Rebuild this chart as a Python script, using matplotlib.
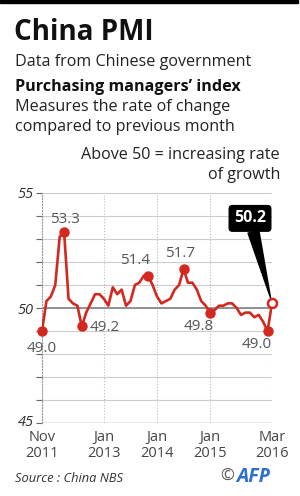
import numpy as np
import pandas as pd
import matplotlib
matplotlib.use('Agg')
import matplotlib.pyplot as plt
from matplotlib.transforms import ScaledTranslation

# ==========================================================
# DATA: official China PMI, Nov 2011 - Mar 2016
# ==========================================================
months = pd.date_range('2011-11-01', '2016-03-01', freq='MS')
pmi = [49.0, 50.3,
       50.5, 51.0, 53.1, 53.3, 50.4, 50.2, 50.1, 49.2, 49.8, 50.2, 50.6, 50.6,
       50.4, 50.1, 50.9, 50.6, 50.8, 50.1, 50.3, 51.0, 51.1, 51.4, 51.4, 51.0,
       50.5, 50.2, 50.3, 50.4, 50.8, 51.0, 51.7, 51.1, 51.1, 50.8, 50.3, 50.1,
       49.8, 49.9, 50.1, 50.1, 50.2, 50.2, 50.0, 49.7, 49.8, 49.8, 49.6, 49.7,
       49.4, 49.0, 50.2]

tick_months = ['2011-11', '2013-01', '2014-01', '2015-01', '2016-03']
tick_labels = ['Nov\n2011', 'Jan\n2013', 'Jan\n2014', 'Jan\n2015', 'Mar\n2016']

# highlighted points
marked_months = ['2011-11', '2012-04', '2012-08', '2013-11', '2014-07', '2015-01', '2016-02']
latest_month = '2016-03'

# ==========================================================
# STYLE
# ==========================================================
RED = '#d3281f'
GREY_TXT = '#555555'
plt.rcParams['font.family'] = ['Open Sans', 'DejaVu Sans']

W, H = 300, 496
fig = plt.figure(figsize=(W / 100, H / 100), dpi=100)

def fy(py):
    return 1 - py / H

# top black bar
fig.patches.append(plt.Rectangle((0, fy(3)), 298 / W, 3 / H, transform=fig.transFigure,
                                 color='black', zorder=5))

fs = 11.6
fig.text(14 / W, fy(32), 'China PMI', fontsize=20, fontweight='bold', va='center', color='#111111')
fig.text(15 / W, fy(62), 'Data from Chinese government', fontsize=fs, va='center', color='#222222')
fig.text(15 / W, fy(87), 'Purchasing managers\u2019 index', fontsize=fs, fontweight='bold',
         va='center', color='#111111')
fig.text(15 / W, fy(107), 'Measures the rate of change', fontsize=fs, va='center', color='#222222')
fig.text(15 / W, fy(127), 'compared to previous month', fontsize=fs, va='center', color='#222222')
fig.text(280 / W, fy(155), 'Above 50 = increasing rate', fontsize=fs, va='center', ha='right',
         color='#222222')
fig.text(280 / W, fy(175), 'of growth', fontsize=fs, va='center', ha='right', color='#222222')

fig.text(15 / W, fy(478), 'Source : China NBS', fontsize=9.3, style='italic', va='center',
         color='#333333')
fig.text(220 / W, fy(477), '\u00a9', fontsize=12, va='center', color='#555555')
fig.text(236 / W, fy(477), 'AFP', fontsize=14, fontweight='bold', style='italic', va='center',
         color='#2f6fd0')

# ==========================================================
# CHART
# ==========================================================
ax = fig.add_axes([42 / W, fy(423), 230 / W, 230 / H])
x = np.arange(len(months))
pos = {m.strftime('%Y-%m'): i for i, m in enumerate(months)}

ax.set_xlim(0, len(months) - 1)
ax.set_ylim(45, 55)

for s in ['top', 'right', 'bottom']:
    ax.spines[s].set_visible(False)
ax.spines['left'].set_linestyle(':')
ax.spines['left'].set_color('#999999')
ax.spines['left'].set_linewidth(0.8)

ax.set_yticks([45, 50, 55])
ax.set_yticks(np.arange(45, 56, 1), minor=True)
ax.set_yticklabels(['45', '50', '55'], fontsize=10.5, style='italic', color='#333333')
ax.tick_params(axis='y', which='both', length=4, width=0.8, color='#666666', pad=2)
ax.grid(axis='y', which='both', color='#cccccc', linewidth=0.8)
# lift the "45" a little so it clears the first date label
lab45 = ax.get_yticklabels()[0]
lab45.set_transform(lab45.get_transform() + ScaledTranslation(0, 3 / 100, fig.dpi_scale_trans))

ax.set_xticks([pos[m] for m in tick_months])
ax.set_xticklabels(tick_labels, fontsize=10.5, color='#444444', linespacing=1.1)
ax.tick_params(axis='x', length=0, pad=5)
ax.grid(axis='x', color='#bbbbbb', linestyle=':', linewidth=0.8)
ax.set_axisbelow(True)

ax.axhline(50, color='#8a8a8a', linewidth=1.3, zorder=1)
ax.axhline(45, color='#999999', linewidth=1.0, zorder=1)

ax.plot(x, pmi, color=RED, linewidth=1.9, zorder=3, solid_joinstyle='round')

mx = [pos[m] for m in marked_months]
ax.plot(mx, [pmi[i] for i in mx], 'o', color=RED, markersize=6.5, zorder=4, clip_on=False)

# value labels: offsets in pixels
offsets = [(0, -17, 'center'), (1, 13, 'center'), (8, -1, 'left'), (-13, 15, 'center'),
           (-3, 15, 'center'), (4, -14, 'right'), (-11, -14, 'center')]
for i, (dx, dy, ha) in zip(mx, offsets):
    ax.annotate(f'{pmi[i]:.1f}', xy=(i, pmi[i]), xytext=(dx, dy), textcoords='offset pixels',
                ha=ha, va='center', fontsize=11, color=GREY_TXT)

# latest value callout
li = pos[latest_month]
ax.plot(li, pmi[li], 'o', mfc='white', mec=RED, mew=1.8, markersize=6.5, zorder=6, clip_on=False)
ax.annotate(f'{pmi[li]:.1f}', xy=(li, pmi[li]), xytext=(-22, 85), textcoords='offset pixels',
            ha='center', va='center', fontsize=11.5, fontweight='bold', color='white', zorder=5,
            bbox=dict(boxstyle='round,pad=0.3,rounding_size=0.2', fc='black', ec='black'),
            arrowprops=dict(arrowstyle='wedge,tail_width=0.7,shrink_factor=0.5', fc='black',
                            ec='black', shrinkA=0, shrinkB=4))

fig.savefig('out.png', dpi=100)
